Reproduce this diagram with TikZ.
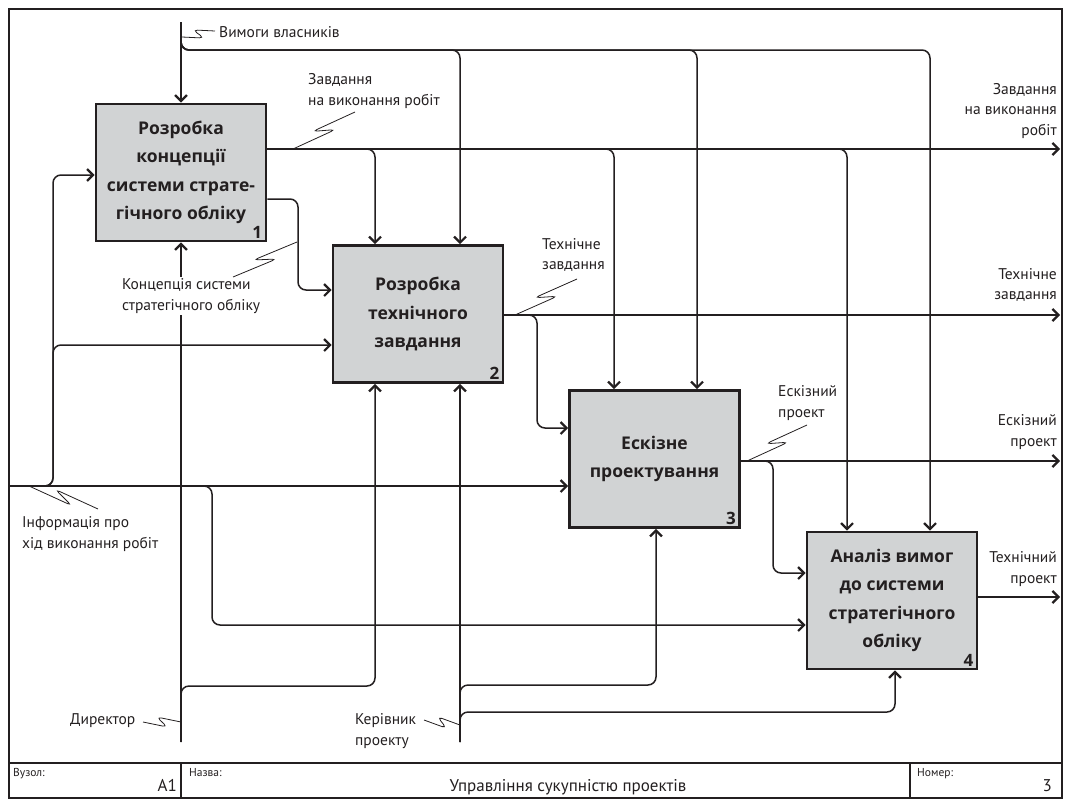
\documentclass[tikz,border=0pt]{standalone}
\usepackage{fontspec}
\setmainfont{PT Sans}
\newfontfamily\boxfont{Open Sans}
\usetikzlibrary{arrows.meta,calc}
\definecolor{ink}{RGB}{35,31,32}
\definecolor{boxgray}{RGB}{209,211,212}
% IDEF0 label leader: a straight line with a small Z-shaped kink
\newcommand\squiggle[2]{%
  \draw[squig] (#1) -- ($(#1)!0.64!(#2)!5pt!-90:(#2)$) -- ($(#1)!0.36!(#2)!5pt!90:(#2)$) -- (#2);}
\begin{document}
\begin{tikzpicture}[x=1pt,y=-1pt,
  func/.style={draw=ink, line width=2.8pt, fill=boxgray, minimum width=170pt, minimum height=137pt,
    inner sep=0pt, align=center, font=\boxfont\fontsize{17.5}{28.5}\selectfont\bfseries, text=ink},
  fnum/.style={font=\boxfont\fontsize{17}{17}\selectfont\bfseries, text=ink, inner sep=0pt},
  flow/.style={draw=ink, line width=1.5pt, rounded corners=8pt},
  tip/.style={-{Straight Barb[length=6pt,width=12pt,line width=2.2pt]}},
  lbl/.style={font=\fontsize{15.5}{20.5}\selectfont, text=ink, inner sep=0pt},
  squig/.style={draw=ink, line width=0.8pt, rounded corners=4.5pt},
  frame/.style={draw=ink, line width=2pt},
  tbs/.style={font=\fontsize{11.5}{13}\selectfont, text=ink, inner sep=0pt},
  tbl/.style={font=\fontsize{17}{18}\selectfont, text=ink, inner sep=0pt},
]
\useasboundingbox (0,0) rectangle (1065,801);

% sheet frame and title block
\draw[frame] (9,9) rectangle (1062,798);
\draw[frame] (9,763) -- (1062,763);
\draw[frame] (181,763) -- (181,798);
\draw[frame] (910,763) -- (910,798);
\node[tbs, anchor=north west] (uzl) at (13,768) {Вузол:};
\node[tbl, anchor=base east] (node) at (177,791) {A1};
\node[tbs, anchor=north west] (nzv) at (189,768) {Назва:};
\node[tbl, anchor=base] (title) at (568,791) {Управління сукупністю проектів};
\node[tbs, anchor=north west] (nmr) at (917,768) {Номер:};
\node[tbl, anchor=base east] (page) at (1052,791) {3};

% function boxes
\node[func] (b1) at (181,172.5) {Розробка\\концепції\\системи страте-\\гічного обліку};
\node[func] (b2) at (418,314) {Розробка\\технічного\\завдання};
\node[func] (b3) at (654.5,459) {Ескізне\\проектування};
\node[func] (b4) at (892,600.5) {Аналіз вимог\\до системи\\стратегічного\\обліку};
\node[fnum, anchor=south east] (n1) at ($(b1.south east)+(-5,-4)$) {1};
\node[fnum, anchor=south east] (n2) at ($(b2.south east)+(-5,-4)$) {2};
\node[fnum, anchor=south east] (n3) at ($(b3.south east)+(-5,-4)$) {3};
\node[fnum, anchor=south east] (n4) at ($(b4.south east)+(-5,-4)$) {4};

% routing grid
\foreach \r in {22,38,50,149,175,199,290,315,345,428,461,486,573,597,625,685,686,712,742}
  \coordinate (r\r) at (0,\r);
\foreach \c in {9,53,181,212,298,375,460,537,614,656,697,773,847,895,930,1060}
  \coordinate (c\c) at (\c,0);

% controls: owners' requirements
\draw[flow,tip] (c181 |- r22) -- (b1.north);
\draw[flow,tip] (c181 |- r38) |- (c460 |- r50) -- (c460 |- b2.north);
\draw[flow,tip] (c181 |- r38) |- (c697 |- r50) -- (c697 |- b3.north);
\draw[flow,tip] (c181 |- r38) |- (c930 |- r50) -- (c930 |- b4.north);

% outputs of box 1
\draw[flow,tip] (b1.east |- r149) -- (c1060 |- r149);
\draw[flow,tip] (b1.east |- r149) -| (c375 |- b2.north);
\draw[flow,tip] (b1.east |- r149) -| (c614 |- b3.north);
\draw[flow,tip] (b1.east |- r149) -| (c847 |- b4.north);
\draw[flow,tip] (b1.east |- r199) -| (c298 |- r290) -- (b2.west |- r290);

% input: progress information
\draw[flow,tip] (c9 |- r486) -- (b3.west |- r486);
\draw[flow,tip] (c9 |- r486) -| (c53 |- r175) -- (b1.west |- r175);
\draw[flow,tip] (c9 |- r486) -| (c53 |- r345) -- (b2.west |- r345);
\draw[flow,tip] (c9 |- r486) -| (c212 |- r625) -- (b4.west |- r625);

% outputs of boxes 2, 3, 4
\draw[flow,tip] (b2.east |- r315) -- (c1060 |- r315);
\draw[flow,tip] (b2.east |- r315) -| (c537 |- r428) -- (b3.west |- r428);
\draw[flow,tip] (b3.east |- r461) -- (c1060 |- r461);
\draw[flow,tip] (b3.east |- r461) -| (c773 |- r573) -- (b4.west |- r573);
\draw[flow,tip] (b4.east |- r597) -- (c1060 |- r597);

% mechanisms
\draw[flow,tip] (c181 |- r742) -- (b1.south);
\draw[flow,tip] (c181 |- r742) |- (c375 |- r686) -- (c375 |- b2.south);
\draw[flow,tip] (c460 |- r742) -- (c460 |- b2.south);
\draw[flow,tip] (c460 |- r742) |- (c656 |- r685) -- (c656 |- b3.south);
\draw[flow,tip] (c460 |- r742) |- (c895 |- r712) -- (c895 |- b4.south);

% arrow labels
\node[lbl, anchor=west] (lown) at (219,32) {Вимоги власників};
\node[lbl, anchor=west, align=left] (ltask) at (308,91) {Завдання\\на виконання робіт};
\node[lbl, anchor=west, align=left] (ltz) at (542,255) {Технічне\\завдання};
\node[lbl, anchor=west, align=left] (lesk) at (778,403) {Ескізний\\проект};
\node[lbl, anchor=west, align=left, fill=white, inner sep=2pt] (lconc) at (120,296) {Концепція системи\\стратегічного обліку};
\node[lbl, anchor=west, align=left] (linfo) at (22,534) {Інформація про\\хід виконання робіт};
\node[lbl, anchor=west] (ldir) at (70,721) {Директор};
\node[lbl, anchor=west, align=left] (lker) at (355,731) {Керівник\\проекту};
\node[lbl, anchor=east, align=right] (otask) at (1057,111) {Завдання\\на виконання\\робіт};
\node[lbl, anchor=east, align=right] (otz) at (1057,285) {Технічне\\завдання};
\node[lbl, anchor=east, align=right] (oesk) at (1057,432) {Ескізний\\проект};
\node[lbl, anchor=east, align=right] (otp) at (1057,569) {Технічний\\проект};

% label leaders
\coordinate (q1a) at (182,37);  \coordinate (q1b) at (215,31);
\coordinate (q2a) at (355,112); \coordinate (q2b) at (293,149);
\coordinate (q3a) at (297,242); \coordinate (q3b) at (233,277);
\coordinate (q4a) at (577,279); \coordinate (q4b) at (515,315);
\coordinate (q5a) at (807,425); \coordinate (q5b) at (747,461);
\coordinate (q6a) at (29,486);  \coordinate (q6b) at (98,509);
\coordinate (q7a) at (143,722); \coordinate (q7b) at (181,722);
\coordinate (q8a) at (424,720); \coordinate (q8b) at (460,725);
\squiggle{q1a}{q1b}
\squiggle{q2a}{q2b}
\squiggle{q3a}{q3b}
\squiggle{q4a}{q4b}
\squiggle{q5a}{q5b}
\squiggle{q6a}{q6b}
\squiggle{q7a}{q7b}
\squiggle{q8a}{q8b}
\end{tikzpicture}
\end{document}
